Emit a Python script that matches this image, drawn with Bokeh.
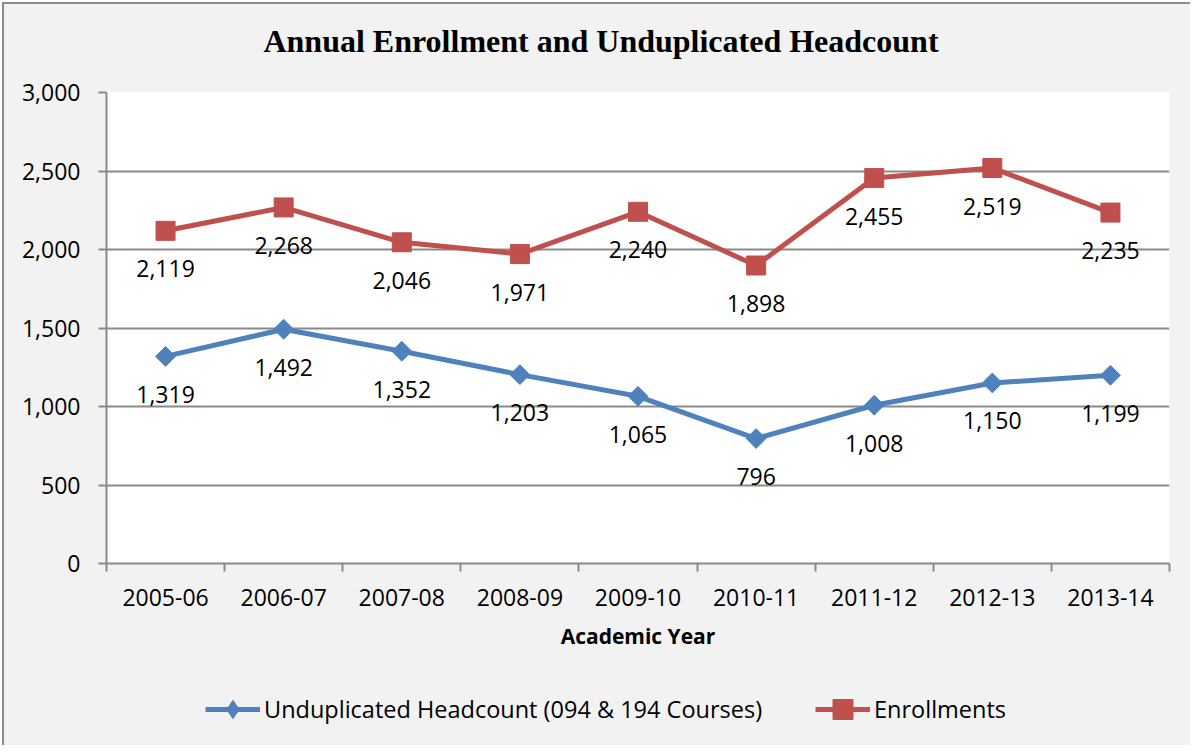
from bokeh.plotting import figure
from bokeh.layouts import column
from bokeh.models import (ColumnDataSource, LabelSet, Label, Legend, LegendItem,
                          FixedTicker, Range1d, NumeralTickFormatter)
from bokeh.embed import file_html
from bokeh.resources import INLINE
from bokeh.core.properties import value
import math

years = ["2005-06", "2006-07", "2007-08", "2008-09", "2009-10",
         "2010-11", "2011-12", "2012-13", "2013-14"]
headcount = [1319, 1492, 1352, 1203, 1065, 796, 1008, 1150, 1199]
enrollments = [2119, 2268, 2046, 1971, 2240, 1898, 2455, 2519, 2235]
y_ticks = [0, 500, 1000, 1500, 2000, 2500, 3000]

title_text = "Annual Enrollment and Unduplicated Headcount"
x_title = "Academic Year"
series_names = ["Unduplicated Headcount (094 & 194 Courses)", "Enrollments"]

BLUE = "#4f81bd"
RED = "#c0504d"
GRID = "#8a8a8a"
BG = "#f2f2f2"
FONT = "Open Sans"
W = 1186
BL, BR = 102, 21          # side borders of the main chart
FW = W - BL - BR          # frame width (shared by all strips in the column)


def blank_fig(h):
    f = figure(width=W, height=h, output_backend="svg", toolbar_location=None,
               x_range=Range1d(0, FW), y_range=Range1d(0, h),
               x_axis_location=None, y_axis_location=None,
               min_border_left=BL, min_border_right=BR, min_border_top=0,
               min_border_bottom=0)
    f.grid.visible = False
    f.background_fill_color = BG
    f.border_fill_color = BG
    f.outline_line_color = None
    return f


# ---------- title strip ----------
TH = 68
tfig = blank_fig(TH)
tfig.add_layout(Label(x=494.5, y=TH - 36, text=title_text, text_align="center",
                      text_baseline="middle", text_font="Liberation Serif",
                      text_font_style="bold", text_font_size="32px",
                      text_color="black"))

# ---------- main chart ----------
xs = [i + 0.5 for i in range(len(years))]
src = ColumnDataSource(dict(
    x=xs,
    head=headcount,
    enr=enrollments,
    head_lbl=[f"{v:,}" for v in headcount],
    enr_lbl=[f"{v:,}" for v in enrollments],
))

MH = 604
p = figure(width=W, height=MH, output_backend="svg", toolbar_location=None,
           x_range=Range1d(0, len(years)), y_range=Range1d(0, 3000),
           min_border_left=BL, min_border_right=BR, min_border_top=20,
           min_border_bottom=113)
p.background_fill_color = "white"
p.border_fill_color = BG
p.outline_line_color = None

p.xaxis.ticker = FixedTicker(ticks=xs, minor_ticks=list(range(len(years) + 1)))
p.xaxis.major_label_overrides = {x: y for x, y in zip(xs, years)}
p.xaxis.major_tick_out = 0
p.xaxis.major_tick_in = 0
p.xaxis.minor_tick_out = 8
p.xaxis.minor_tick_in = 0
p.xaxis.minor_tick_line_color = GRID
p.xaxis.minor_tick_line_width = 2
p.xaxis.axis_line_color = GRID
p.xaxis.axis_line_width = 2
p.xaxis.major_label_text_font = FONT
p.xaxis.major_label_text_font_size = "23px"
p.xaxis.major_label_text_color = "black"
p.xaxis.major_label_standoff = 17
p.xaxis.axis_label = x_title
p.xaxis.axis_label_text_font = FONT
p.xaxis.axis_label_text_font_style = "bold"
p.xaxis.axis_label_text_font_size = "21px"
p.xaxis.axis_label_text_color = "black"
p.xaxis.axis_label_standoff = 13

p.yaxis.ticker = FixedTicker(ticks=y_ticks)
p.yaxis.formatter = NumeralTickFormatter(format="0,0")
p.yaxis.major_tick_out = 8
p.yaxis.major_tick_in = 0
p.yaxis.minor_tick_line_color = None
p.yaxis.major_tick_line_color = GRID
p.yaxis.major_tick_line_width = 2
p.yaxis.axis_line_color = GRID
p.yaxis.axis_line_width = 2
p.yaxis.major_label_text_font = FONT
p.yaxis.major_label_text_font_size = "23px"
p.yaxis.major_label_text_color = "black"
p.yaxis.major_label_standoff = 18

p.xgrid.visible = False
p.ygrid.ticker = FixedTicker(ticks=y_ticks)
p.ygrid.grid_line_color = GRID
p.ygrid.grid_line_width = 2

p.line("x", "head", source=src, line_color=BLUE, line_width=5)
p.scatter("x", "head", source=src, marker="square", angle=math.pi / 4,
          size=14, fill_color=BLUE, line_color=BLUE)
p.line("x", "enr", source=src, line_color=RED, line_width=5)
p.scatter("x", "enr", source=src, marker="square", size=19,
          fill_color=RED, line_color=RED)

for col, ycol in (("head_lbl", "head"), ("enr_lbl", "enr")):
    p.add_layout(LabelSet(x="x", y=ycol, text=col, source=src,
                          text_align="center", text_baseline="middle",
                          y_offset=-38, text_font=value(FONT),
                          text_font_size="23px", text_color="black"))

# ---------- legend strip ----------
# legend proxies: the series' first points lie far outside this strip's
# y range, so only their legend glyphs are seen
LH = 741 - TH - MH
lfig = blank_fig(LH)
lb1 = lfig.line(x=xs[:1], y=headcount[:1], line_color=BLUE, line_width=5)
mb1 = lfig.scatter(x=xs[:1], y=headcount[:1], marker="diamond",
                   fill_color=BLUE, line_color=BLUE)
lb2 = lfig.line(x=xs[:1], y=enrollments[:1], line_color=RED, line_width=5)
mb2 = lfig.scatter(x=xs[:1], y=enrollments[:1], marker="square",
                   fill_color=RED, line_color=RED)

common = dict(orientation="horizontal", glyph_width=55, label_standoff=4,
              padding=0, margin=0, border_line_color=None,
              background_fill_alpha=0, label_text_font=FONT,
              label_text_font_size="23.5px", label_text_color="black")
leg1 = Legend(items=[LegendItem(label=series_names[0], renderers=[lb1, mb1])],
              location=(99, 13), glyph_height=46, **common)
leg2 = Legend(items=[LegendItem(label=series_names[1], renderers=[lb2, mb2])],
              location=(709, 11), glyph_height=50, **common)
lfig.add_layout(leg1)
lfig.add_layout(leg2)

layout = column(tfig, p, lfig, spacing=0,
                styles={"margin-left": "2px", "margin-top": "2px",
                        "margin-bottom": "-8px", "margin-right": "-8px",
                        "background-color": BG,
                        "border-left": "2px solid #8c8c8c",
                        "border-top": "2px solid #8c8c8c"})

open("out.html", "w").write(file_html(layout, INLINE))
